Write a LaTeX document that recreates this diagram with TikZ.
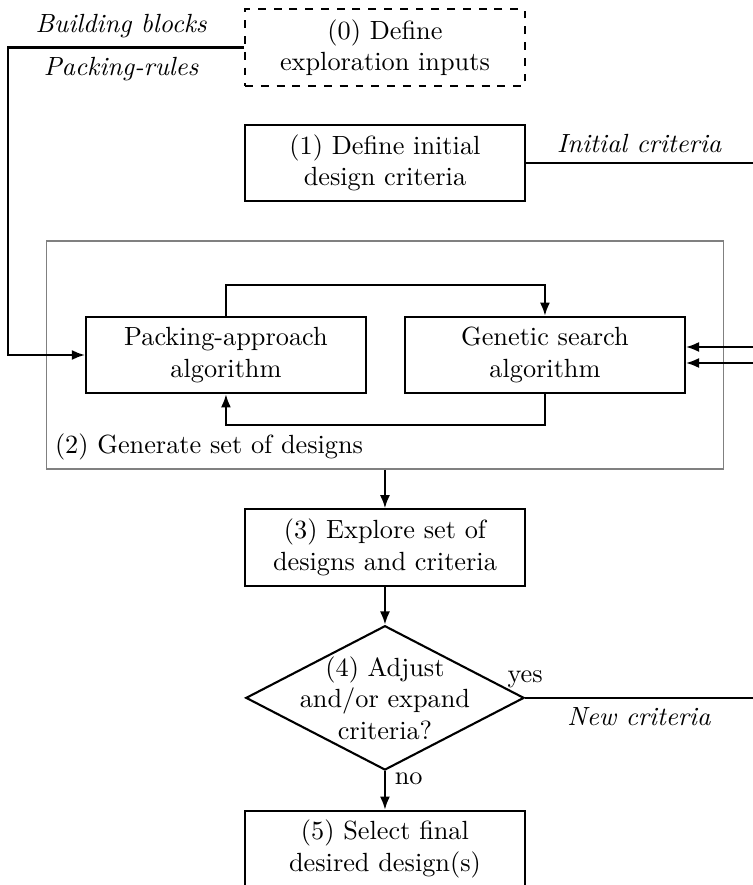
\documentclass[tikz,border=0pt]{standalone}
\usepackage{amsmath}
\usepackage{tikz}
\usepackage{xcolor}
\usetikzlibrary{shapes,positioning,arrows.meta}

\begin{document}
\begin{tikzpicture}[
        >={Latex[length=5pt,width=3.8pt]},
        stepbox/.style={rectangle, draw=black, thick, minimum width=3.74cm, minimum height=1.02cm, align=center},
        inputbox/.style={stepbox, dashed},
        decision/.style={diamond, draw=black, thick, minimum width=3.72cm, minimum height=1.93cm, inner sep=0pt},
        groupbox/.style={rectangle, draw=gray, semithick, minimum width=9.05cm, minimum height=3.05cm},
        flow/.style={thick}
    ]
        \useasboundingbox (-5.147,0) rectangle (4.920,-11.832);

        % Steps
        \node[inputbox] (step0) at (0, -0.635) {(0) Define\\exploration inputs};
        \node[stepbox] (step1) at (0, -2.18) {(1) Define initial\\design criteria};

        % Generation loop
        \node[groupbox] (gen) at (0, -4.746) {};
        \node[anchor=south west] (genlabel) at (gen.south west) {(2) Generate set of designs};
        \node[stepbox] (packing) at (-2.126, -4.746) {Packing-approach\\algorithm};
        \node[stepbox] (genetic) at (2.139, -4.746) {Genetic search\\algorithm};

        \node[stepbox] (step3) at (0, -7.32) {(3) Explore set of\\designs and criteria};
        \node[decision] (adjust) at (0, -9.33) {};
        \node[align=center] (adjusttext) at (adjust) {(4) Adjust\\and/or expand\\criteria?};
        \node[stepbox] (step5) at (0, -11.35) {(5) Select final\\desired design(s)};

        % Free ends
        \coordinate (inleft) at (-5.04, -0.635);
        \coordinate (critout) at (4.92, -2.18);
        \coordinate (fbone) at (4.92, -4.639);
        \coordinate (fbtwo) at (4.92, -4.853);
        \coordinate (newout) at (4.92, -9.33);

        % Connections
        \draw[flow, ->] (step0.west) -- node[pos=.52, above] {\textit{Building blocks}}
            node[pos=.52, below] {\textit{Packing-rules}} (inleft) |- (packing.west);
        \draw[flow] (step1.east) -- node[above] {\textit{Initial criteria}} (critout);
        \draw[flow, ->] (packing.north) -- ++(0, 0.414) -| (genetic.north);
        \draw[flow, ->] (genetic.south) -- ++(0, -0.414) -| (packing.south);
        \draw[flow, ->] (fbone) -- (genetic.east |- fbone);
        \draw[flow, ->] (fbtwo) -- (genetic.east |- fbtwo);
        \draw[flow, ->] (gen.south) -- (step3.north);
        \draw[flow, ->] (step3.south) -- (adjust.north);
        \draw[flow] (adjust.east) -- node[pos=0, above] {yes}
            node[below] {\textit{New criteria}} (newout);
        \draw[flow, ->] (adjust.south) -- node[pos=.2, right] {no} (step5.north);
    \end{tikzpicture}
\end{document}
